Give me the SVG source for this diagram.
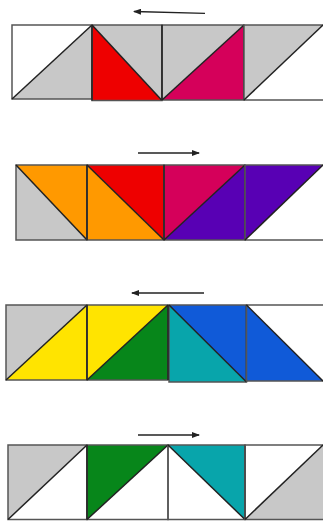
<svg xmlns="http://www.w3.org/2000/svg" width="323" height="521" viewBox="0 0 323 521">
<defs>
<style>
.g{fill:#c8c8c8}.w{fill:#ffffff}.r{fill:#ee0000}.m{fill:#d5005a}.o{fill:#ff9900}.p{fill:#5800b4}.y{fill:#ffe400}.gr{fill:#07861a}.t{fill:#08a5ab}.b{fill:#105ad8}
.e{fill:none;stroke:#555;stroke-width:1.5}
.d{fill:none;stroke:#222;stroke-width:1.5}
.a{fill:none;stroke:#222;stroke-width:1.3}
</style>
<marker id="ah" markerWidth="8" markerHeight="6" refX="7" refY="3" orient="auto" markerUnits="userSpaceOnUse">
<path d="M0,0 L8,3 L0,6 Z" fill="#222"/>
</marker>
</defs>
<rect width="323" height="521" fill="#ffffff"/>

<g id="row1">
<g id="r1c1"><polygon class="w" points="12,25 92,25 12,99"/><polygon class="g" points="92,25 92,99 12,99"/><rect class="e" x="12" y="25" width="80" height="74"/><line class="d" x1="12" y1="99" x2="92" y2="25"/></g>
<g id="r1c2"><polygon class="g" points="92,25 162,25 162,100.5"/><polygon class="r" points="92,25 92,100.5 162,100.5"/><rect class="e" x="92" y="25" width="70" height="75.5"/><line class="d" x1="92" y1="25" x2="162" y2="100.5"/><line class="d" x1="92" y1="25" x2="92" y2="100.5"/></g>
<g id="r1c3"><polygon class="g" points="162,25 244,25 162,100"/><polygon class="m" points="244,25 244,100 162,100"/><rect class="e" x="162" y="25" width="82" height="75"/><line class="d" x1="162" y1="100" x2="244" y2="25"/><line class="d" x1="244" y1="25" x2="244" y2="100"/><line class="d" x1="162" y1="25" x2="162" y2="100"/></g>
<g id="r1c4"><polygon class="g" points="244,25 323,25 244,100"/><polyline class="e" points="323,25 244,25 244,100 323,100"/><line class="d" x1="244" y1="100" x2="323" y2="25"/></g>
</g>

<g id="row2">
<g id="r2c1"><polygon class="g" points="16,165 16,240 87,240"/><polygon class="o" points="16,165 87,165 87,240"/><rect class="e" x="16" y="165" width="71" height="75"/><line class="d" x1="16" y1="165" x2="87" y2="240"/></g>
<g id="r2c2"><polygon class="r" points="87,165 164,165 164,240"/><polygon class="o" points="87,165 87,240 164,240"/><rect class="e" x="87" y="165" width="77" height="75"/><line class="d" x1="87" y1="165" x2="164" y2="240"/><line class="d" x1="87" y1="165" x2="87" y2="240"/></g>
<g id="r2c3"><polygon class="m" points="164,165 245,165 164,240"/><polygon class="p" points="245,165 245,240 164,240"/><rect class="e" x="164" y="165" width="81" height="75"/><line class="d" x1="164" y1="240" x2="245" y2="165"/><line class="d" x1="164" y1="165" x2="164" y2="240"/><line class="d" x1="245" y1="165" x2="245" y2="240"/></g>
<g id="r2c4"><polygon class="p" points="245,165 323,165 245,240"/><polyline class="e" points="323,165 245,165 245,240 323,240"/><line class="d" x1="245" y1="240" x2="323" y2="165"/></g>
</g>

<g id="row3">
<g id="r3c1"><polygon class="g" points="6,305 87,305 6,380"/><polygon class="y" points="87,305 87,380 6,380"/><rect class="e" x="6" y="305" width="81" height="75"/><line class="d" x1="6" y1="380" x2="87" y2="305"/></g>
<g id="r3c2"><polygon class="y" points="87,305 168,305 87,380"/><polygon class="gr" points="168,305 168,380 87,380"/><rect class="e" x="87" y="305" width="81" height="75"/><line class="d" x1="87" y1="380" x2="168" y2="305"/><line class="d" x1="87" y1="305" x2="87" y2="380"/></g>
<g id="r3c3"><polygon class="b" points="169,305 246.5,305 246.5,382"/><polygon class="t" points="169,305 169,382 246.5,382"/><rect class="e" x="169" y="305" width="77.5" height="77"/><line class="d" x1="169" y1="305" x2="246.5" y2="382"/><line class="d" x1="168" y1="305" x2="168" y2="380"/><line class="d" x1="246.5" y1="305" x2="246.5" y2="382"/></g>
<g id="r3c4"><polygon class="b" points="246.5,305 246.5,381 323,381"/><polyline class="e" points="323,305 246.5,305 246.5,381 323,381"/><line class="d" x1="246.5" y1="305" x2="323" y2="381"/></g>
</g>

<g id="row4">
<g id="r4c1"><polygon class="g" points="8,445 87,445 8,519.5"/><rect class="e" x="8" y="445" width="79" height="74.5"/><line class="d" x1="8" y1="519.5" x2="87" y2="445"/></g>
<g id="r4c2"><polygon class="gr" points="87,445 168,445 87,519.5"/><rect class="e" x="87" y="445" width="81" height="74.5"/><line class="d" x1="87" y1="519.5" x2="168" y2="445"/><line class="d" x1="87" y1="445" x2="87" y2="519.5"/></g>
<g id="r4c3"><polygon class="t" points="168,445 245,445 245,519.5"/><rect class="e" x="168" y="445" width="77" height="74.5"/><line class="d" x1="168" y1="445" x2="245" y2="519.5"/><line class="d" x1="245" y1="445" x2="245" y2="519.5"/></g>
<g id="r4c4"><polygon class="g" points="323,445 323,519.5 245,519.5"/><polyline class="e" points="323,445 245,445 245,519.5 323,519.5"/><line class="d" x1="245" y1="519.5" x2="323" y2="445"/></g>
</g>

<g id="connectors">
<line class="a" x1="205" y1="13.3" x2="134" y2="11.5" marker-end="url(#ah)"/>
<line class="a" x1="138" y1="153" x2="199" y2="153" marker-end="url(#ah)"/>
<line class="a" x1="204" y1="293" x2="132" y2="293" marker-end="url(#ah)"/>
<line class="a" x1="138" y1="435" x2="199" y2="435" marker-end="url(#ah)"/>
</g>
</svg>
